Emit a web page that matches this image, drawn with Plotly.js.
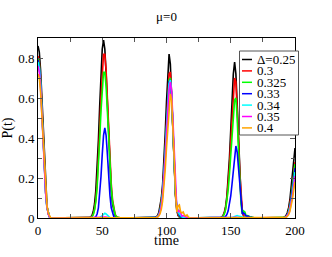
<!DOCTYPE html>
<html>
<head>
<meta charset="utf-8">
<script src="https://cdn.plot.ly/plotly-3.0.1.min.js"></script>
<style>html,body{margin:0;padding:0;background:#fff;}#chart{width:332px;height:257px;}</style>
</head>
<body>
<div id="chart"></div>
<script>
// time samples
const time = [0,1,2,3,4,5,6,7,8,9,10,
  12,16,20,25,30,35,38,40,
  41,42,43,44,45,46,47,48,49,50,51,52,53,54,55,56,57,58,59,60,61,62,
  65,70,75,80,85,88,90,91,
  92,93,94,95,96,97,98,99,100,101,102,103,104,105,106,107,108,109,110,111,112,113,114,115,116,117,118,
  120,125,130,135,138,140,141,142,
  143,144,145,146,147,148,149,150,151,152,153,154,155,156,157,158,159,160,161,162,163,164,165,166,167,168,169,170,
  173,176,180,185,189,
  190,191,192,193,194,195,196,197,198,199,200];

const seriesNames = ['Δ=0.25','0.3','0.325','0.33','0.34','0.35','0.4'];

const pD025 = [0.86,0.83,0.74,0.60,0.43,0.27,0.14,0.06,0.02,0.005,0,
  0,0,0,0,0,0,0,0,
  0.005,0.013,0.032,0.07,0.137,0.242,0.387,0.557,0.723,0.845,0.89,0.845,0.723,0.557,0.387,0.242,0.137,0.07,0.032,0.013,0.005,0,
  0,0,0,0,0,0,0,0,
  0.005,0.012,0.027,0.055,0.10,0.17,0.28,0.42,0.58,0.72,0.82,0.77,0.62,0.42,0.24,0.11,0.04,0.012,0.005,0.003,0,0,0,0,0,0,0,
  0,0,0,0,0,0,0,0,
  0.005,0.012,0.028,0.058,0.11,0.19,0.30,0.44,0.59,0.72,0.78,0.72,0.57,0.39,0.22,0.10,0.035,0.01,0.003,0,0,0,0,0,0,0,0,0,
  0,0,0,0,0,
  0,0.002,0.005,0.012,0.026,0.05,0.09,0.15,0.22,0.29,0.35];

const pD030 = [0.81,0.78,0.70,0.56,0.40,0.25,0.13,0.055,0.02,0.005,0,
  0,0,0,0,0,0,0,0,
  0.003,0.007,0.019,0.045,0.092,0.172,0.29,0.439,0.599,0.738,0.819,0.819,0.738,0.599,0.439,0.29,0.172,0.092,0.045,0.019,0.007,0.003,
  0,0,0,0,0,0,0,0,
  0.003,0.008,0.02,0.042,0.08,0.14,0.23,0.35,0.49,0.62,0.72,0.73,0.62,0.44,0.26,0.12,0.045,0.015,0.006,0.003,0,0,0,0,0,0,0,
  0,0,0,0,0,0,0,0,
  0.004,0.01,0.024,0.05,0.095,0.165,0.26,0.38,0.51,0.63,0.70,0.68,0.57,0.40,0.23,0.105,0.04,0.012,0.004,0,0,0,0,0,0,0,0,0,
  0,0,0,0,0,
  0,0.001,0.003,0.008,0.018,0.036,0.065,0.11,0.16,0.22,0.28];

const pD0325 = [0.80,0.77,0.69,0.55,0.39,0.24,0.125,0.055,0.02,0.005,0,
  0,0,0,0,0,0,0,0,
  0.003,0.006,0.017,0.04,0.082,0.153,0.258,0.391,0.533,0.657,0.729,0.729,0.657,0.533,0.391,0.258,0.153,0.082,0.04,0.017,0.006,0.003,
  0,0,0,0,0,0,0,0,
  0.003,0.007,0.018,0.038,0.074,0.13,0.21,0.33,0.46,0.59,0.69,0.70,0.61,0.44,0.26,0.12,0.05,0.02,0.008,0.004,0.002,0,0,0,0,0,0,
  0,0,0,0,0,0,0,0,
  0.003,0.008,0.02,0.042,0.08,0.14,0.22,0.32,0.43,0.53,0.59,0.60,0.50,0.34,0.18,0.07,0.02,0.035,0.03,0.01,0.012,0.01,0.004,0.006,0.003,0,0,0,
  0,0,0,0,0,
  0,0.001,0.003,0.007,0.016,0.032,0.058,0.10,0.15,0.21,0.27];

const pD033 = [0.79,0.76,0.68,0.54,0.38,0.235,0.12,0.05,0.02,0.005,0,
  0,0,0,0,0,0,0,0,
  0,0,0,0.002,0.006,0.02,0.051,0.112,0.206,0.318,0.413,0.45,0.413,0.318,0.206,0.112,0.051,0.02,0.006,0.002,0,0,
  0,0,0,0,0,0,0,0,
  0.003,0.007,0.017,0.036,0.07,0.125,0.205,0.32,0.45,0.58,0.68,0.69,0.61,0.45,0.27,0.13,0.055,0.025,0.012,0.006,0.003,0,0,0,0,0,0,
  0,0,0,0,0,0,0,0,
  0,0.001,0.003,0.008,0.018,0.036,0.065,0.11,0.17,0.24,0.31,0.36,0.33,0.25,0.15,0.07,0.02,0.025,0.02,0.008,0.01,0.008,0.003,0.004,0.002,0,0,0,
  0,0,0,0,0,
  0,0.001,0.002,0.006,0.014,0.028,0.052,0.09,0.14,0.19,0.25];

const pD034 = [0.78,0.75,0.67,0.53,0.37,0.23,0.12,0.05,0.02,0.005,0,
  0,0,0,0,0,0,0,0,
  0,0,0,0,0,0,0,0.002,0.006,0.012,0.02,0.024,0.02,0.012,0.006,0.002,0,0,0,0,0,0,
  0,0,0,0,0,0,0,0,
  0.002,0.006,0.015,0.033,0.066,0.12,0.20,0.31,0.44,0.57,0.67,0.69,0.62,0.46,0.28,0.14,0.06,0.03,0.02,0.012,0.006,0.003,0,0,0,0,0,
  0,0,0,0,0,0,0,0,
  0,0,0,0,0,0,0,0,0.002,0.005,0.008,0.01,0.012,0.01,0.008,0.005,0.003,0.004,0.003,0,0,0,0,0,0,0,0,0,
  0,0,0,0,0,
  0,0,0.002,0.005,0.012,0.025,0.047,0.08,0.125,0.175,0.23];

const pD035 = [0.76,0.73,0.65,0.52,0.37,0.23,0.12,0.055,0.02,0.006,0,
  0,0,0,0,0,0,0,0,
  0,0,0,0,0,0,0,0,0,0.003,0.005,0.006,0.005,0.003,0,0,0,0,0,0,0,0,
  0,0,0,0,0,0,0,0,
  0.002,0.005,0.013,0.03,0.06,0.11,0.185,0.29,0.41,0.54,0.64,0.68,0.63,0.49,0.31,0.15,0.05,0.03,0.04,0.025,0.01,0.012,0.008,0.004,0.002,0,0,
  0,0,0,0,0,0,0,0,
  0,0,0,0,0,0,0,0,0,0.002,0.003,0.004,0.003,0.002,0,0,0,0,0,0,0,0,0,0,0,0,0,0,
  0,0,0,0,0,
  0,0,0.002,0.004,0.01,0.021,0.04,0.07,0.11,0.16,0.21];

const pD040 = [0.72,0.70,0.63,0.51,0.37,0.24,0.13,0.06,0.025,0.008,0,
  0,0,0,0,0,0,0,0,
  0,0,0,0,0,0,0,0,0,0,0,0,0,0,0,0,0,0,0,0,0,0,
  0,0,0,0,0,0,0,0,
  0.002,0.004,0.01,0.022,0.045,0.085,0.15,0.24,0.35,0.46,0.56,0.62,0.59,0.47,0.30,0.13,0.03,0.06,0.065,0.03,0.025,0.03,0.015,0.01,0.015,0.005,0,
  0,0,0,0,0,0,0,0,
  0,0,0,0,0,0,0,0,0,0,0,0,0,0,0,0,0,0,0,0,0,0,0,0,0,0,0,0,
  0,0,0,0,0,
  0,0,0.001,0.003,0.008,0.017,0.033,0.058,0.095,0.14,0.18];

const allSeries = [pD025, pD030, pD0325, pD033, pD034, pD035, pD040];
const colors = ['#000000','#ff0000','#00ff00','#0000ff','#00ffff','#ff00ff','#ffa500'];

allSeries.forEach((s, i) => {
  if (s.length !== time.length) throw new Error(seriesNames[i] + ' has ' + s.length + ' vs ' + time.length);
});

const FONT = '"Liberation Serif", "Times New Roman", serif';
const W = 332, H = 257;
const M = {l: 38, r: 37, t: 38, b: 39};
const pw = W - M.l - M.r, ph = H - M.t - M.b;
const px2x = px => (px - M.l) / pw;
const py2y = py => (H - M.b - py) / ph;

const traces = allSeries.map((s, i) => ({
  x: time, y: s, type: 'scatter', mode: 'lines', name: seriesNames[i],
  line: {color: colors[i], width: 1.6}, showlegend: false, hoverinfo: 'skip'
}));

// custom compact legend
const shapes = [{
  type: 'rect', xref: 'paper', yref: 'paper', layer: 'above',
  x0: px2x(239.5), x1: px2x(298.5), y0: py2y(135), y1: py2y(51),
  fillcolor: '#ffffff', line: {color: '#555555', width: 1}
}];
const annotations = [];
seriesNames.forEach((nm, i) => {
  const yc = 59.5 + i * 11.4;
  shapes.push({type: 'line', xref: 'paper', yref: 'paper', layer: 'above',
    x0: px2x(242), x1: px2x(252), y0: py2y(yc), y1: py2y(yc),
    line: {color: colors[i], width: 1.5}});
  annotations.push({xref: 'paper', yref: 'paper', x: px2x(255), y: py2y(yc),
    xanchor: 'left', yanchor: 'middle', showarrow: false, text: nm, height: 11,
    font: {family: FONT, size: 13, color: '#000'}});
});
// x-axis title placed close under the tick labels, as in the reference
annotations.push({xref: 'paper', yref: 'paper', x: 0.5, y: py2y(239.5),
  xanchor: 'center', yanchor: 'middle', showarrow: false, text: 'time', height: 12,
  font: {family: FONT, size: 14, color: '#000'}});

const layout = {
  width: W, height: H,
  margin: M,
  paper_bgcolor: '#fff', plot_bgcolor: '#fff',
  font: {family: FONT, size: 13, color: '#000'},
  title: {text: 'μ=0', x: 0.5, xref: 'paper', y: 1 - 16.5/H, yref: 'container', yanchor: 'middle',
          font: {family: FONT, size: 13, color: '#000'}},
  xaxis: {
    range: [0, 200], dtick: 50, tick0: 0, ticks: 'inside', ticklen: 5, tickwidth: 1, tickcolor: '#555',
    minor: {dtick: 25, ticks: 'inside', ticklen: 4, tickcolor: '#555'},
    showline: true, linecolor: '#000', linewidth: 1, mirror: 'ticks',
    showgrid: false, zeroline: false, automargin: false,
    tickfont: {family: FONT, size: 13, color: '#000'}
  },
  yaxis: {
    range: [0, 0.9], dtick: 0.2, tick0: 0, ticks: 'inside', ticklen: 5, tickwidth: 1, tickcolor: '#555',
    minor: {dtick: 0.1, ticks: 'inside', ticklen: 4, tickcolor: '#555'},
    showline: true, linecolor: '#000', linewidth: 1, mirror: 'ticks',
    showgrid: false, zeroline: false, automargin: false,
    tickfont: {family: FONT, size: 13, color: '#000'},
    title: {text: 'P(t)', font: {family: FONT, size: 14, color: '#000'}, standoff: 4}
  },
  shapes: shapes,
  annotations: annotations,
  showlegend: false
};

Plotly.newPlot('chart', traces, layout, {staticPlot: true, displayModeBar: false});
</script>
</body>
</html>
